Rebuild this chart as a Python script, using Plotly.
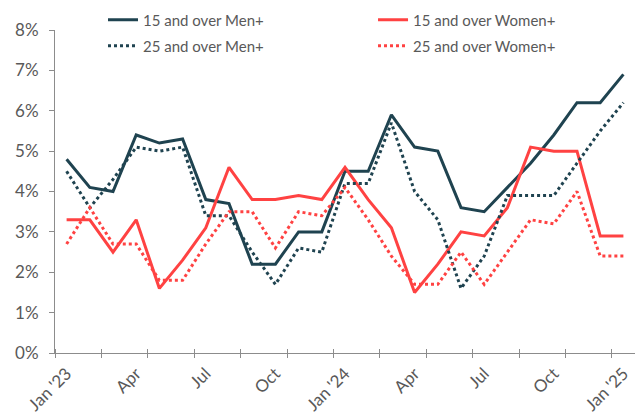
import plotly.graph_objects as go

months = list(range(25))
tick_idx = [0, 3, 6, 9, 12, 15, 18, 21, 24]
tick_labels = ["Jan '23", "Apr", "Jul", "Oct", "Jan '24", "Apr", "Jul", "Oct", "Jan '25"]

men15 = [4.8, 4.1, 4.0, 5.4, 5.2, 5.3, 3.8, 3.7, 2.2, 2.2, 3.0, 3.0, 4.5, 4.5, 5.9, 5.1, 5.0, 3.6, 3.5, 4.1, 4.7, 5.4, 6.2, 6.2, 6.9]
men25 = [4.5, 3.6, 4.3, 5.1, 5.0, 5.1, 3.4, 3.4, 2.5, 1.7, 2.6, 2.5, 4.2, 4.2, 5.7, 4.0, 3.3, 1.6, 2.4, 3.9, 3.9, 3.9, 4.7, 5.5, 6.2]
women15 = [3.3, 3.3, 2.5, 3.3, 1.6, 2.3, 3.1, 4.6, 3.8, 3.8, 3.9, 3.8, 4.6, 3.8, 3.1, 1.5, 2.2, 3.0, 2.9, 3.6, 5.1, 5.0, 5.0, 2.9, 2.9]
women25 = [2.7, 3.6, 2.7, 2.7, 1.8, 1.8, 2.7, 3.5, 3.5, 2.6, 3.5, 3.4, 4.1, 3.3, 2.4, 1.7, 1.7, 2.5, 1.7, 2.5, 3.3, 3.2, 4.0, 2.4, 2.4]

DARK = "#1F4350"
RED = "#FF4242"
GRID = "#8C8C8C"
TXT = "#595959"
FAMILY = "Lato, 'Open Sans', sans-serif"

fig = go.Figure()
fig.add_trace(go.Scatter(x=months, y=men15, name="15 and over Men+", mode="lines",
                         line=dict(color=DARK, width=3), legend="legend"))
fig.add_trace(go.Scatter(x=months, y=women15, name="15 and over Women+", mode="lines",
                         line=dict(color=RED, width=3), legend="legend2"))
fig.add_trace(go.Scatter(x=months, y=men25, name="25 and over Men+", mode="lines",
                         line=dict(color=DARK, width=3, dash="dot"), legend="legend3"))
fig.add_trace(go.Scatter(x=months, y=women25, name="25 and over Women+", mode="lines",
                         line=dict(color=RED, width=3, dash="dot"), legend="legend4"))
# invisible helper on overlay axis for crossing tick marks
fig.add_trace(go.Scatter(x=months, y=men15, xaxis="x2", mode="lines", showlegend=False,
                         hoverinfo="skip", line=dict(width=0), opacity=0))

def leg(x, y):
    return dict(orientation="v", x=x, y=y, xref="container", yref="container",
                xanchor="left", yanchor="middle",
                bgcolor="rgba(0,0,0,0)", borderwidth=0,
                font=dict(family=FAMILY, size=15, color=TXT))

fig.update_layout(
    width=637, height=415,
    margin=dict(l=55, r=2, t=30, b=62, autoexpand=False),
    paper_bgcolor="white", plot_bgcolor="white",
    font=dict(family=FAMILY, size=15, color=TXT),
    xaxis=dict(range=[-0.5, 24.5], tickmode="array", tickvals=tick_idx, ticktext=tick_labels,
               tickangle=-45, ticks="", showgrid=False, zeroline=False, automargin=False,
               showline=True, linecolor=GRID, linewidth=1, ticklabelstandoff=3,
               tickfont=dict(family=FAMILY, size=17, color=TXT),
               minor=dict(tick0=-0.5, dtick=2, ticks="outside", ticklen=4, tickcolor=GRID, showgrid=False)),
    xaxis2=dict(range=[-0.5, 24.5], overlaying="x", anchor="y", side="bottom", showticklabels=False,
                ticks="", showgrid=False, zeroline=False, showline=False, automargin=False,
                minor=dict(tick0=-0.5, dtick=2, ticks="inside", ticklen=4, tickcolor=GRID, showgrid=False)),
    yaxis=dict(range=[0, 8], dtick=1, ticksuffix="%", ticks="outside", ticklen=5, tickcolor=GRID,
               showgrid=False, zeroline=False, showline=True, linecolor=GRID, linewidth=1,
               automargin=False, ticklabelstandoff=7,
               tickfont=dict(family=FAMILY, size=17, color=TXT)),
    legend=leg(0.1617, 0.952),
    legend2=leg(0.5856, 0.952),
    legend3=leg(0.1617, 0.889),
    legend4=leg(0.5856, 0.889),
    showlegend=True,
)

fig.write_html("out.html", config={"displayModeBar": False},
               post_script="document.body.style.margin='0';")
